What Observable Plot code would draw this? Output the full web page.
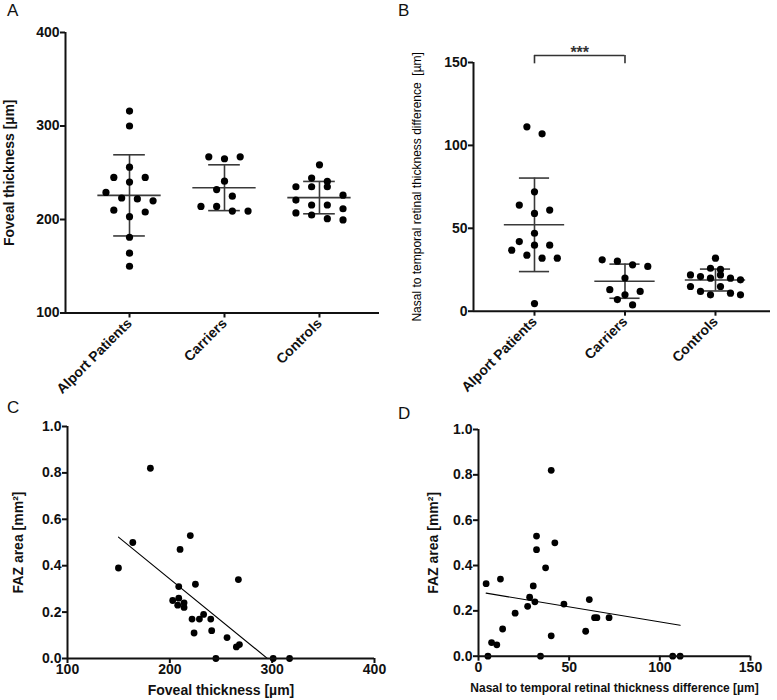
<!DOCTYPE html>
<html>
<head>
<meta charset="utf-8">
<script src="https://cdn.jsdelivr.net/npm/d3@7"></script>
<script src="https://cdn.jsdelivr.net/npm/@observablehq/plot@0.6"></script>
<style>
  html, body { margin: 0; padding: 0; background: #fff; }
  #wrap { position: relative; width: 777px; height: 700px; overflow: hidden; font-family: "Liberation Sans", Arial, sans-serif; }
  .panel { position: absolute; }
  .letter { position: absolute; font-size: 17px; line-height: 1; color: #111; }
  svg { font-family: "Liberation Sans", Arial, sans-serif; overflow: visible; }
  svg [aria-label$="tick label"] text, svg [aria-label$="tick label"] { font-size: 14px; font-weight: bold; fill: #111; }
  #pA [aria-label="x-axis tick label"] text, #pB [aria-label="x-axis tick label"] text { font-size: 14px; }
  svg [aria-label$="-axis label"] text, svg text[aria-label$="-axis label"] { font-size: 14px; font-weight: bold; fill: #111; }
  #pB [aria-label="y-axis label"] text { font-size: 12px; font-weight: normal; fill: #000; }
  #pD [aria-label="x-axis label"] text { font-size: 12px; }
  svg [aria-label$="-axis tick"] path, svg [aria-label$="-axis tick"] line { stroke-width: 2; stroke: #111; }
</style>
</head>
<body>
<div id="wrap">
  <div class="panel" id="pA" style="left:0px;top:0px"></div>
  <div class="panel" id="pB" style="left:390px;top:0px"></div>
  <div class="panel" id="pC" style="left:0px;top:390px"></div>
  <div class="panel" id="pD" style="left:390px;top:390px"></div>
  <div class="letter" style="left:7px;top:2px">A</div>
  <div class="letter" style="left:398px;top:2px">B</div>
  <div class="letter" style="left:7px;top:399px">C</div>
  <div class="letter" style="left:398px;top:405px">D</div>
</div>
<script>
// ---------- data ----------
const groups = ["Alport Patients", "Carriers", "Controls"];

// Panel A: foveal thickness [µm]
const fovealAlport   = [316, 300, 256, 245, 245, 240, 229, 223, 222, 220, 210, 208, 203, 181, 164, 150];
const fovealCarriers = [267, 267, 265, 241, 232, 225, 214, 214, 209, 209];
const fovealControls = [258.5, 244.3, 240.7, 235, 235, 235, 226, 220.8, 215.5, 215.5, 211.5, 207, 204.8, 200.9, 199.5];
const fovealMean = [225.8, 234.0, 223.4];
const fovealSD   = [43.4, 24.5, 17.3];
const fovealTicks = [100, 200, 300, 400];

// Panel B: nasal to temporal retinal thickness difference [µm]
const diffAlport   = [111.2, 107, 72, 64, 61, 59, 47, 42, 39.8, 39.8, 36.8, 33.8, 32, 32, 4.6];
const diffCarriers = [31, 30.2, 28, 27, 20, 13, 11.9, 9.9, 7, 3.8];
const diffControls = [32, 25.9, 25.2, 21.9, 21.9, 20.9, 19.9, 19.9, 18.9, 14.9, 14.9, 11.9, 10.9, 9.9, 9.9];
const diffMean = [52.1, 18.1, 18.8];
const diffSD   = [28.2, 10.3, 6.6];
const diffTicks = [0, 50, 100, 150];
const sigFrom = [0];
const sigTo = [1];
const sigLabel = ["***"];

// Panel C: FAZ area vs foveal thickness
const cThickness = [181, 163.8, 149.8, 220, 210, 267, 208.7, 225, 202.8, 208.7, 207.7, 213.9, 213.9, 221.7, 233, 228.9, 240, 223.7, 240.9, 255.9, 265, 268, 245, 301, 317];
const cFAZ       = [0.82, 0.50, 0.39, 0.53, 0.47, 0.34, 0.31, 0.32, 0.25, 0.26, 0.23, 0.24, 0.22, 0.17, 0.19, 0.17, 0.17, 0.11, 0.12, 0.09, 0.05, 0.06, 0, 0, 0];
const cTicks = [100, 200, 300, 400];

// Panel D: FAZ area vs nasal-temporal difference
const dDiff = [40.1, 32, 42.1, 32, 37, 4.2, 12.1, 30.2, 28.2, 31.1, 27.1, 47.1, 61.1, 20.2, 64, 65.3, 72, 13.3, 59.1, 40.1, 7.2, 10.1, 5.2, 34.2, 107.1, 111.2];
const dFAZ  = [0.82, 0.53, 0.50, 0.47, 0.39, 0.32, 0.34, 0.31, 0.26, 0.24, 0.22, 0.23, 0.25, 0.19, 0.17, 0.17, 0.17, 0.12, 0.11, 0.09, 0.06, 0.05, 0, 0, 0, 0];
const dTicks = [0, 50, 100, 150];
const fazTicks = [0, 0.2, 0.4, 0.6, 0.8, 1.0];

// ---------- helpers ----------
const AXIS = "#111";
const BAR = "#3a3a3a";

// GraphPad-like scatter layout: values grouped in rows, spread symmetrically
function swarm(values, pxPerUnit, spanPx, maxRow) {
  const order = d3.range(values.length).sort((a, b) => values[a] - values[b]);
  const rows = [];
  let cur = null;
  for (const i of order) {
    if (cur && (values[i] - values[cur[0]]) * pxPerUnit <= spanPx && cur.length < maxRow) cur.push(i);
    else rows.push(cur = [i]);
  }
  const patterns = {1: [0], 2: [-1, 1], 3: [-2, 2, 0], 4: [-3, -1, 1, 3], 5: [-4, -2, 0, 2, 4], 6: [-5, 1, -3, 3, -1, 5]};
  const slot = new Array(values.length);
  for (const r of rows) {
    r.sort((a, b) => values[b] - values[a]);
    r.forEach((i, k) => slot[i] = patterns[r.length][k]);
  }
  return slot;
}

function dotPanel(o) {
  const {series, means, sds, yDomain, yTicks, width, height, mL, mR, mT, mB, xDomain, hs, maxRows, label, labelOffset, extra = []} = o;
  const pxPerUnit = (height - mT - mB) / (yDomain[1] - yDomain[0]);
  const pxPerCat = (width - mL - mR) / (xDomain[1] - xDomain[0]);
  const pts = [];
  series.forEach((vals, g) => {
    const slots = swarm(vals, pxPerUnit, 8.8, maxRows[g]);
    vals.forEach((v, i) => pts.push({g, v, x: g + slots[i] * hs[g] / pxPerCat}));
  });
  const summary = groups.map((name, g) => ({g, mean: means[g], lo: means[g] - sds[g], hi: means[g] + sds[g]}));
  return Plot.plot({
    width, height,
    marginLeft: mL, marginRight: mR, marginTop: mT, marginBottom: mB,
    style: {fontFamily: "Liberation Sans, Arial, sans-serif", fontSize: "14px", color: AXIS, background: "transparent"},
    x: {domain: xDomain, ticks: [0, 1, 2], tickFormat: i => groups[i], tickRotate: -45, tickSize: 5, tickPadding: 3, label: null},
    y: {domain: yDomain, ticks: yTicks, tickSize: 5, tickPadding: 1, tickFormat: d3.format("d"), label, labelAnchor: "center", labelOffset, labelArrow: "none"},
    marks: [
      Plot.ruleY(summary, {y: "mean", x1: d => d.g - 1/3, x2: d => d.g + 1/3, stroke: BAR, strokeWidth: 1.6}),
      Plot.ruleY(summary, {y: "hi", x1: d => d.g - 1/6, x2: d => d.g + 1/6, stroke: BAR, strokeWidth: 1.6}),
      Plot.ruleY(summary, {y: "lo", x1: d => d.g - 1/6, x2: d => d.g + 1/6, stroke: BAR, strokeWidth: 1.6}),
      Plot.ruleX(summary, {x: "g", y1: "lo", y2: "hi", stroke: BAR, strokeWidth: 1.6}),
      Plot.dot(pts, {x: "x", y: "v", r: 3.6, fill: "#000", stroke: "none"}),
      Plot.ruleX([xDomain[0]], {stroke: AXIS, strokeWidth: 2}),
      Plot.ruleY([yDomain[0]], {stroke: AXIS, strokeWidth: 2}),
      ...extra
    ]
  });
}

function scatterPanel(o) {
  const {xs, ys, xDomain, xTicks, width, height, mL, mR, mT, mB, xLabel, yLabel, yLabelOffset, xLabelOffset} = o;
  const pts = xs.map((x, i) => ({x, y: ys[i]}));
  return Plot.plot({
    width, height,
    marginLeft: mL, marginRight: mR, marginTop: mT, marginBottom: mB,
    style: {fontFamily: "Liberation Sans, Arial, sans-serif", fontSize: "14px", color: AXIS, background: "transparent"},
    x: {domain: xDomain, ticks: xTicks, tickSize: 5, tickPadding: 1, tickFormat: d3.format("d"), label: xLabel, labelAnchor: "center", labelOffset: xLabelOffset, labelArrow: "none"},
    y: {domain: [0, 1], ticks: fazTicks, tickSize: 5, tickPadding: 1, tickFormat: d3.format(".1f"), label: yLabel, labelAnchor: "center", labelOffset: yLabelOffset, labelArrow: "none"},
    marks: [
      Plot.linearRegressionY(pts, {x: "x", y: "y", ci: 0, stroke: "#000", strokeWidth: 1.1, clip: true}),
      Plot.dot(pts, {x: "x", y: "y", r: 3.4, fill: "#000", stroke: "none"}),
      Plot.ruleX([xDomain[0]], {stroke: AXIS, strokeWidth: 2}),
      Plot.ruleY([0], {stroke: AXIS, strokeWidth: 2})
    ]
  });
}

// ---------- Panel A ----------
document.getElementById("pA").append(dotPanel({
  series: [fovealAlport, fovealCarriers, fovealControls],
  means: fovealMean, sds: fovealSD,
  yDomain: [100, 400], yTicks: fovealTicks,
  width: 390, height: 390, mL: 65, mR: 11, mT: 32, mB: 77.5,
  xDomain: [-0.674, 2.632], hs: [7.85, 7.85, 7.85], maxRows: [4, 4, 4],
  label: "Foveal thickness [µm]", labelOffset: 61
}));

// ---------- Panel B ----------
const sig = sigFrom.map((f, i) => ({from: f, to: sigTo[i], mid: (f + sigTo[i]) / 2, label: sigLabel[i]}));
const bracketTop = 154.2, bracketFoot = 149.2;
document.getElementById("pB").append(dotPanel({
  series: [diffAlport, diffCarriers, diffControls],
  means: diffMean, sds: diffSD,
  yDomain: [0, 150], yTicks: diffTicks,
  width: 387, height: 390, mL: 83, mR: 7, mT: 62, mB: 79.3,
  xDomain: [-0.674, 2.608], hs: [7.6, 7.6, 5], maxRows: [4, 4, 6],
  label: "Nasal to temporal retinal thickness difference  [µm]", labelOffset: 61,
  extra: [
    Plot.ruleY(sig, {y: () => bracketTop, x1: "from", x2: "to", stroke: "#333", strokeWidth: 1.6}),
    Plot.ruleX(sig, {x: "from", y1: () => bracketFoot, y2: () => bracketTop, stroke: "#333", strokeWidth: 1.6}),
    Plot.ruleX(sig, {x: "to", y1: () => bracketFoot, y2: () => bracketTop, stroke: "#333", strokeWidth: 1.6}),
    Plot.text(sig, {x: "mid", y: () => bracketTop, text: "label", dy: 2, lineAnchor: "bottom", fontSize: 16, fontWeight: "bold", fill: "#333"})
  ]
}));

// ---------- Panel C ----------
document.getElementById("pC").append(scatterPanel({
  xs: cThickness, ys: cFAZ, xDomain: [100, 400], xTicks: cTicks,
  width: 390, height: 310, mL: 67, mR: 16, mT: 36, mB: 42,
  xLabel: "Foveal thickness [µm]", yLabel: "FAZ area [mm²]", yLabelOffset: 54, xLabelOffset: 36
}));

// ---------- Panel D ----------
document.getElementById("pD").append(scatterPanel({
  xs: dDiff, ys: dFAZ, xDomain: [0, 150], xTicks: dTicks,
  width: 387, height: 310, mL: 88, mR: 27, mT: 39, mB: 44.3,
  xLabel: "Nasal to temporal retinal thickness difference [µm]", yLabel: "FAZ area [mm²]", yLabelOffset: 50, xLabelOffset: 36
}));
</script>
</body>
</html>
